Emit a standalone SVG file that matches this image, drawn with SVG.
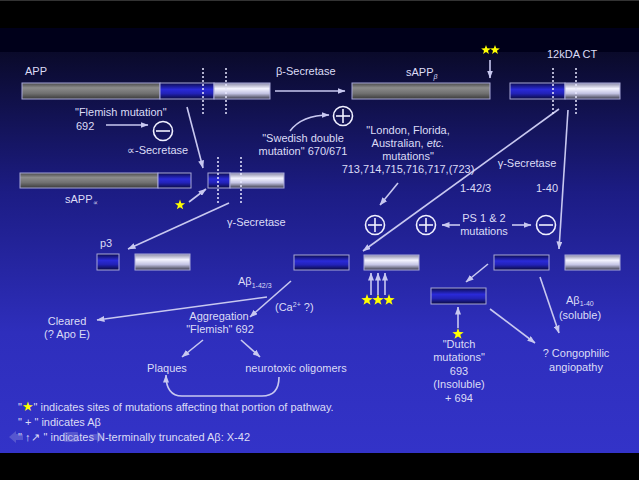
<svg xmlns="http://www.w3.org/2000/svg" width="639" height="480" viewBox="0 0 639 480">
<defs>
<linearGradient id="bg" x1="0" y1="0" x2="0" y2="1">
<stop offset="0" stop-color="#0a0a2a"/>
<stop offset="0.35" stop-color="#1c1c84"/>
<stop offset="0.7" stop-color="#2e2ebc"/>
<stop offset="1" stop-color="#3333c8"/>
</linearGradient>
<linearGradient id="gGray" x1="0" y1="0" x2="0" y2="1">
<stop offset="0" stop-color="#4a4a4a"/>
<stop offset="0.3" stop-color="#8c8c8c"/>
<stop offset="0.65" stop-color="#707070"/>
<stop offset="1" stop-color="#3a3a3a"/>
</linearGradient>
<linearGradient id="gBlue" x1="0" y1="0" x2="0" y2="1">
<stop offset="0" stop-color="#0c0c50"/>
<stop offset="0.4" stop-color="#2a2ad8"/>
<stop offset="0.65" stop-color="#2222b8"/>
<stop offset="1" stop-color="#0a0a40"/>
</linearGradient>
<linearGradient id="gLight" x1="0" y1="0" x2="0" y2="1">
<stop offset="0" stop-color="#8a8aa8"/>
<stop offset="0.35" stop-color="#f4f4ff"/>
<stop offset="0.65" stop-color="#c4c4e4"/>
<stop offset="1" stop-color="#3a3a4a"/>
</linearGradient>
<marker id="ah" markerWidth="8" markerHeight="6" refX="7.5" refY="3" orient="auto" markerUnits="userSpaceOnUse">
<path d="M0,0 L8,3 L0,6 Z" fill="#c8c8f0"/>
</marker>
<path id="star" d="M0,-6 L1.41,-1.94 5.71,-1.85 2.28,0.74 3.53,4.85 0,2.4 -3.53,4.85 -2.28,0.74 -5.71,-1.85 -1.41,-1.94Z" fill="#ffff00"/>
</defs>
<style>
text{font-family:"Liberation Sans",Arial,sans-serif;font-size:11px;fill:#dcdcf6}
.c{text-anchor:middle}
.sub{font-size:7px}
.bar{stroke:#a8a8d8;stroke-width:1}
.dash{stroke:#e8e8ff;stroke-width:1.5;stroke-dasharray:2,2}
.ln{stroke:#c8c8f0;stroke-width:1.6;fill:none}
.ar{marker-end:url(#ah)}
.sym{fill:none;stroke:#f0f0ff;stroke-width:1.6}
</style>
<rect x="0" y="0" width="639" height="480" fill="#000"/>
<rect x="0" y="0" width="639" height="1" fill="#333"/>
<rect x="0" y="28" width="639" height="24" fill="#00001a"/>
<rect x="0" y="52" width="639" height="401" fill="url(#bg)"/>

<g id="connectors">
<line class="ln ar" x1="275" y1="91" x2="345" y2="91"/>
<line class="ln ar" x1="490" y1="60" x2="490" y2="78"/>
<line class="ln ar" x1="106" y1="125" x2="148" y2="125"/>
<path class="ln ar" d="M290,131 Q302,115 329,115"/>
<line class="ln ar" x1="187" y1="107" x2="203" y2="168"/>
<line class="ln ar" x1="189" y1="202" x2="206" y2="189"/>
<line class="ln ar" x1="229" y1="203" x2="128" y2="249"/>
<line class="ln ar" x1="398" y1="183" x2="380" y2="205"/>
<line class="ln ar" x1="559" y1="109" x2="363" y2="251"/>
<line class="ln ar" x1="568" y1="110" x2="559" y2="249"/>
<line class="ln ar" x1="460" y1="225" x2="442" y2="225"/>
<line class="ln ar" x1="512" y1="225" x2="531" y2="225"/>
<line class="ln ar" x1="371" y1="295" x2="371" y2="273"/>
<line class="ln ar" x1="378" y1="295" x2="378" y2="273"/>
<line class="ln ar" x1="385" y1="295" x2="385" y2="273"/>
<line class="ln ar" x1="291" y1="281" x2="250" y2="317"/>
<line class="ln ar" x1="267" y1="297" x2="97" y2="320"/>
<line class="ln ar" x1="203" y1="340" x2="182" y2="357"/>
<line class="ln ar" x1="241" y1="340" x2="260" y2="357"/>
<path class="ln ar" d="M279,377 Q279,396 262,396 L182,396 Q166,396 166,375"/>
<line class="ln ar" x1="488" y1="264" x2="466" y2="282"/>
<line class="ln ar" x1="540" y1="277" x2="559" y2="333"/>
<line class="ln ar" x1="490" y1="309" x2="535" y2="343"/>
<line class="ln ar" x1="458" y1="328" x2="458" y2="307"/>
</g>

<g id="app">
<rect class="bar" x="22" y="83" width="138" height="16" fill="url(#gGray)"/>
<rect class="bar" x="160" y="83" width="54" height="16" fill="url(#gBlue)"/>
<rect class="bar" x="214" y="83" width="56" height="16" fill="url(#gLight)"/>
<line class="dash" x1="203" y1="68" x2="203" y2="116"/>
<line class="dash" x1="226" y1="68" x2="226" y2="116"/>
<text x="25" y="75">APP</text>
</g>
<g id="beta-secretase"><text x="276" y="75">β-Secretase</text></g>
<g id="sappb">
<rect class="bar" x="352" y="83" width="138" height="16" fill="url(#gGray)"/>
<text x="406" y="76">sAPP<tspan class="sub" dy="3" font-style="italic">β</tspan></text>
</g>
<g id="stars-top">
<use href="#star" transform="translate(486,50) scale(0.85)"/>
<use href="#star" transform="translate(495,50) scale(0.85)"/>
</g>
<g id="ct12">
<rect class="bar" x="510" y="83" width="55" height="16" fill="url(#gBlue)"/>
<rect class="bar" x="565" y="83" width="55" height="16" fill="url(#gLight)"/>
<line class="dash" x1="553" y1="68" x2="553" y2="116"/>
<line class="dash" x1="576" y1="68" x2="576" y2="116"/>
<text x="547" y="58">12kDA CT</text>
</g>
<g id="flemish">
<text x="75" y="116">"Flemish mutation"</text>
<text x="76" y="130">692</text>
</g>
<g id="alpha-minus">
<circle class="sym" cx="163" cy="131" r="9.5"/>
<line class="sym" x1="156" y1="131" x2="170" y2="131"/>
<text x="127" y="154">∝-Secretase</text>
</g>
<g id="swedish">
<circle class="sym" cx="343" cy="116" r="9.5"/>
<line class="sym" x1="336" y1="116" x2="350" y2="116"/>
<line class="sym" x1="343" y1="109" x2="343" y2="123"/>
<text class="c" x="303" y="142">"Swedish double</text>
<text class="c" x="303" y="155">mutation" 670/671</text>
</g>
<g id="london">
<text class="c" x="408" y="134">"London, Florida,</text>
<text class="c" x="408" y="147">Australian, <tspan font-style="italic">etc.</tspan></text>
<text class="c" x="408" y="160">mutations"</text>
<text class="c" x="408" y="173">713,714,715,716,717,(723)</text>
</g>
<g id="gamma-right">
<text class="c" x="527" y="167">γ-Secretase</text>
<text x="460" y="192">1-42/3</text>
<text x="536" y="192">1-40</text>
</g>
<g id="sappa">
<rect class="bar" x="20" y="173" width="138" height="15" fill="url(#gGray)"/>
<rect class="bar" x="158" y="173" width="33" height="15" fill="url(#gBlue)"/>
<text x="65" y="203">sAPP<tspan class="sub" dy="2">∝</tspan></text>
</g>
<g id="c83">
<rect class="bar" x="208" y="173" width="22" height="15" fill="url(#gBlue)"/>
<rect class="bar" x="230" y="173" width="54" height="15" fill="url(#gLight)"/>
<line class="dash" x1="218" y1="157" x2="218" y2="205"/>
<line class="dash" x1="241" y1="157" x2="241" y2="205"/>
<use href="#star" transform="translate(180,205) scale(0.9)"/>
<text x="227" y="226">γ-Secretase</text>
</g>
<g id="p3">
<text x="100" y="247">p3</text>
<rect class="bar" x="97" y="254" width="22" height="16" fill="url(#gBlue)"/>
<rect class="bar" x="135" y="254" width="55" height="16" fill="url(#gLight)"/>
</g>
<g id="abeta42">
<rect class="bar" x="294" y="255" width="55" height="15" fill="url(#gBlue)"/>
<rect class="bar" x="364" y="255" width="55" height="15" fill="url(#gLight)"/>
<use href="#star" transform="translate(367,300)"/>
<use href="#star" transform="translate(378,300)"/>
<use href="#star" transform="translate(389,300)"/>
<text x="238" y="285">Aβ<tspan class="sub" dy="3">1-42/3</tspan></text>
<text x="275" y="311">(Ca<tspan class="sub" dy="-4">2+</tspan><tspan dy="4"> ?)</tspan></text>
</g>
<g id="plus1">
<circle class="sym" cx="375" cy="225" r="9.5"/>
<line class="sym" x1="368" y1="225" x2="382" y2="225"/>
<line class="sym" x1="375" y1="218" x2="375" y2="232"/>
</g>
<g id="plus2">
<circle class="sym" cx="426" cy="225" r="9.5"/>
<line class="sym" x1="419" y1="225" x2="433" y2="225"/>
<line class="sym" x1="426" y1="218" x2="426" y2="232"/>
</g>
<g id="ps">
<text class="c" x="484" y="222">PS 1 &amp; 2</text>
<text class="c" x="484" y="235">mutations</text>
</g>
<g id="minus2">
<circle class="sym" cx="546" cy="225" r="9.5"/>
<line class="sym" x1="539" y1="225" x2="553" y2="225"/>
</g>
<g id="abeta40">
<rect class="bar" x="494" y="255" width="55" height="15" fill="url(#gBlue)"/>
<rect class="bar" x="565" y="255" width="55" height="15" fill="url(#gLight)"/>
<text x="566" y="304">Aβ<tspan class="sub" dy="2">1-40</tspan></text>
<text class="c" x="580" y="319">(soluble)</text>
</g>
<g id="dutch">
<rect class="bar" x="431" y="288" width="55" height="16" fill="url(#gBlue)"/>
<use href="#star" transform="translate(458,334)"/>
<text class="c" x="459" y="348">"Dutch</text>
<text class="c" x="459" y="361">mutations"</text>
<text class="c" x="459" y="375">693</text>
<text class="c" x="459" y="388">(Insoluble)</text>
<text class="c" x="459" y="402">+ 694</text>
</g>
<g id="congophilic">
<text class="c" x="576" y="357">? Congophilic</text>
<text class="c" x="576" y="371">angiopathy</text>
</g>
<g id="cleared">
<text class="c" x="67" y="325">Cleared</text>
<text class="c" x="67" y="338">(? Apo E)</text>
</g>
<g id="aggregation">
<text class="c" x="219" y="320">Aggregation</text>
<text class="c" x="220" y="333">"Flemish" 692</text>
</g>
<g id="plaques"><text class="c" x="167" y="372">Plaques</text></g>
<g id="oligomers"><text class="c" x="296" y="372">neurotoxic oligomers</text></g>
<g id="legend">
<text x="18" y="411">"<tspan fill="#ffff00" font-family="DejaVu Sans" font-size="13">★</tspan>" indicates sites of mutations affecting that portion of pathway.</text>
<text x="18" y="426">" + " indicates Aβ</text>
<text x="18" y="441">" ↑<tspan dx="1">↗</tspan> " indicates N-terminally truncated Aβ:  X-42</text>
</g>
<g id="nav" opacity="0.35">
<path d="M9,437 L16,431 L16,434 L23,434 L23,440 L16,440 L16,443 Z" fill="#9a9ae0"/>
<rect x="64" y="432" width="14" height="10" rx="1" fill="#9a9ae0"/>
<path d="M104,437 L97,431 L97,434 L90,434 L90,440 L97,440 L97,443 Z" fill="#9a9ae0"/>
</g>
</svg>
